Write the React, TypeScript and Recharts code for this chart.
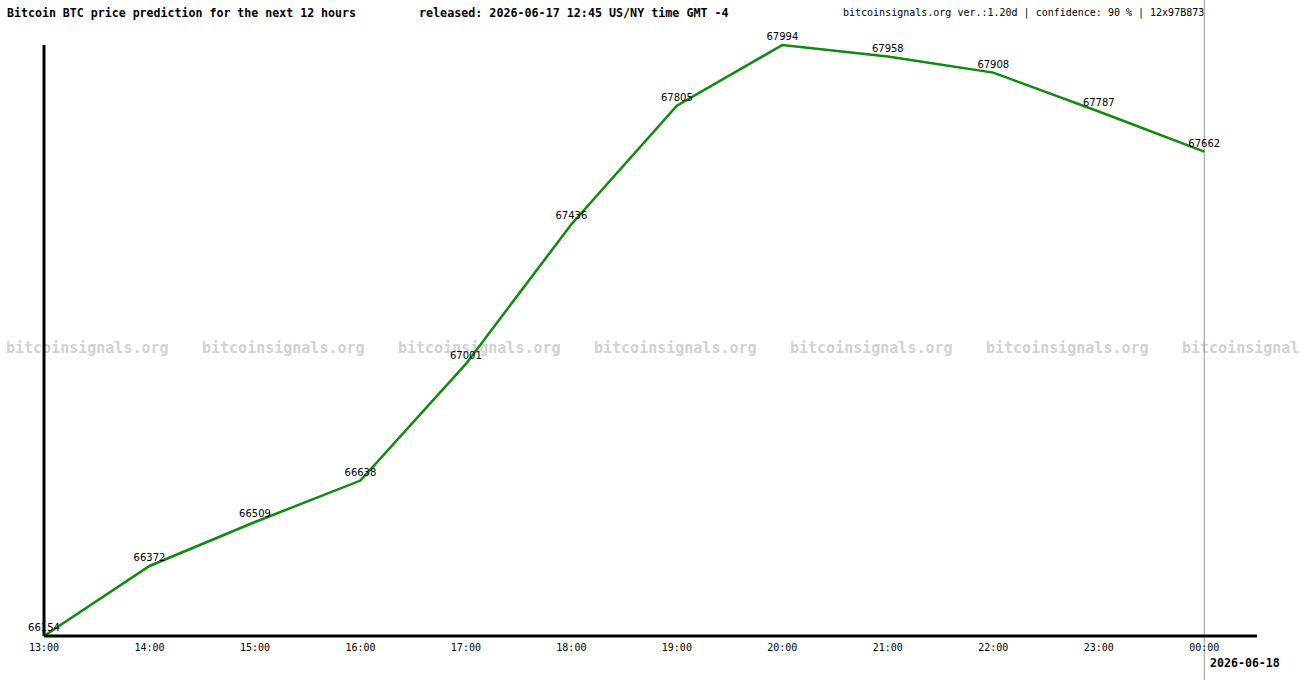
import { LineChart, Line, XAxis, YAxis, ReferenceLine, LabelList } from "recharts";

const hours = ["13:00", "14:00", "15:00", "16:00", "17:00", "18:00", "19:00", "20:00", "21:00", "22:00", "23:00", "00:00"];
const prices = [66154, 66372, 66509, 66638, 67001, 67436, 67805, 67994, 67958, 67908, 67787, 67662];
const watermarkX = [6, 202, 398, 594, 790, 986, 1182];

const data = prices.map((price, i) => ({ i, price }));
const mono = "'DejaVu Sans Mono', monospace";

export default function App() {
  return (
    <div style={{ position: "absolute", left: 0, top: 0, width: 1300, height: 680, background: "#fff", overflow: "hidden" }}>
      {watermarkX.map((x) => (
        <div
          key={x}
          style={{ position: "absolute", left: x, top: 339, fontFamily: mono, fontWeight: "bold", fontSize: 15, color: "#d2d2d2", whiteSpace: "nowrap", lineHeight: "18px" }}
        >
          bitcoinsignals.org
        </div>
      ))}
      <div style={{ position: "absolute", left: 7, top: 6, fontFamily: mono, fontWeight: "bold", fontSize: 11.6, whiteSpace: "nowrap" }}>
        Bitcoin BTC price prediction for the next 12 hours
      </div>
      <div style={{ position: "absolute", left: 419, top: 6, fontFamily: mono, fontWeight: "bold", fontSize: 11.7, whiteSpace: "nowrap" }}>
        released: 2026-06-17 12:45 US/NY time GMT -4
      </div>
      <div style={{ position: "absolute", left: 843, top: 7, fontFamily: mono, fontSize: 10, whiteSpace: "nowrap" }}>
        bitcoinsignals.org ver.:1.20d | confidence: 90 % | 12x97B873
      </div>
      <div style={{ position: "absolute", left: 1210, top: 656, fontFamily: mono, fontWeight: "bold", fontSize: 11.6, whiteSpace: "nowrap" }}>
        2026-06-18
      </div>
      <div style={{ position: "absolute", left: 0, top: 0 }}>
        <LineChart width={1300} height={680} data={data} margin={{ top: 45, right: 43, bottom: 14, left: 44 }}>
          <XAxis
            type="number"
            dataKey="i"
            domain={[0, 11.5]}
            ticks={hours.map((_, i) => i)}
            tickFormatter={(v) => hours[v]}
            height={30}
            tickLine={false}
            axisLine={{ stroke: "#000", strokeWidth: 3 }}
            tick={{ fill: "#000", fontSize: 10, fontFamily: mono }}
            interval={0}
          />
          <YAxis hide width={0} domain={[prices[0], Math.max(...prices)]} />
          <ReferenceLine
            x={11}
            ifOverflow="visible"
            shape={(props: any) => <line x1={props.x1} x2={props.x2} y1={0} y2={680} stroke="#999" strokeWidth={1} />}
          />
          <ReferenceLine x={0} stroke="#000" strokeWidth={3} />
          <Line type="linear" dataKey="price" stroke="#118811" strokeWidth={2.5} dot={false} isAnimationActive={false}>
            <LabelList dataKey="price" position="top" offset={5} fill="#000" fontSize={10} fontFamily="'DejaVu Sans', sans-serif" />
          </Line>
        </LineChart>
      </div>
    </div>
  );
}
